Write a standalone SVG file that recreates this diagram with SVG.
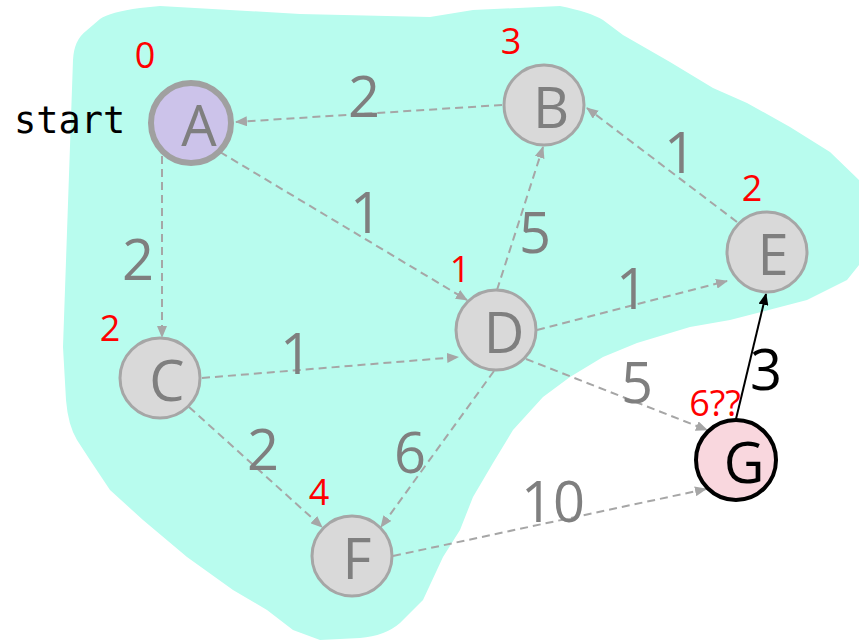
<svg xmlns="http://www.w3.org/2000/svg" width="859" height="641" viewBox="0 0 859 641">
<style>
.nd{fill:#d9d9d9;stroke:#a6a6a6;stroke-width:3}
.lt{font-family:"Open Sans","Liberation Sans",sans-serif;font-size:56px;fill:#7f7f7f;text-anchor:middle}
.rd{font-family:"Open Sans","Liberation Sans",sans-serif;font-size:36px;fill:#ff0000;text-anchor:middle}
.wt{font-family:"Open Sans","Liberation Sans",sans-serif;font-size:56px;fill:#7f7f7f;text-anchor:middle}
.ed{fill:none;stroke:#a6a6a6;stroke-width:2;stroke-dasharray:8 5;marker-end:url(#ag)}
</style>
<defs>
<marker id="ag" markerWidth="12" markerHeight="10" refX="11" refY="5" orient="auto" markerUnits="userSpaceOnUse"><path d="M0,0 L12,5 L0,10 Z" fill="#a6a6a6"/></marker>
<marker id="ab" markerWidth="12" markerHeight="10" refX="11" refY="5" orient="auto" markerUnits="userSpaceOnUse"><path d="M0,0 L12,5 L0,10 Z" fill="#000"/></marker>
</defs>
<path id="region" fill="#b8fcee" d="M73,60 Q74,40 86,31 L100,19 Q110,12 140,8 L160,6 L300,14 L430,17 L473,10 L560,6 Q590,12 603,20 L623,35 L670,62 L713,88 L747,103 L790,127 L830,152 L859,180 L859,265 L847,280 L807,300 L730,320 L690,327 L637,343 L603,357 L570,377 L543,397 L513,430 L493,463 L473,497 L460,530 L443,557 L423,600 L400,623 Q385,636 360,638 L320,640 L293,630 L267,610 L233,590 L187,557 L143,520 L110,490 L90,460 L77,440 Q68,425 66,400 L63,347 Z"/>
<g id="connectors">
<line class="ed" x1="502" y1="105" x2="236" y2="122"/>
<line class="ed" x1="220" y1="152" x2="467" y2="300"/>
<line class="ed" x1="162" y1="156" x2="162" y2="337"/>
<line class="ed" x1="497" y1="290" x2="543" y2="147"/>
<line class="ed" x1="737" y1="222" x2="587" y2="108"/>
<line class="ed" x1="537" y1="330" x2="727" y2="281"/>
<line class="ed" x1="202" y1="378" x2="458" y2="357"/>
<line class="ed" x1="189" y1="407" x2="322" y2="527"/>
<line class="ed" x1="494" y1="371" x2="381" y2="527"/>
<line class="ed" x1="526" y1="359" x2="707" y2="430"/>
<line class="ed" x1="393" y1="556" x2="706" y2="489"/>
<line x1="736" y1="419" x2="766" y2="294" stroke="#000" stroke-width="2" marker-end="url(#ab)"/>
<text class="wt" x="364" y="117">2</text>
<text class="wt" x="366" y="233">1</text>
<text class="wt" x="138" y="280">2</text>
<text class="wt" x="535" y="253">5</text>
<text class="wt" x="680" y="173">1</text>
<text class="wt" x="632" y="309">1</text>
<text class="wt" x="296" y="374">1</text>
<text class="wt" x="263" y="470">2</text>
<text class="wt" x="410" y="473">6</text>
<text class="wt" x="637" y="403">5</text>
<text class="wt" x="553" y="522">10</text>
<text class="wt" x="766" y="390" style="fill:#000">3</text>
</g>
<text x="14" y="133" font-family="DejaVu Sans Mono,monospace" font-size="37" fill="#000">start</text>
<g id="A"><circle cx="191" cy="123" r="40" fill="#ccc3ea" stroke="#a0a0a0" stroke-width="6"/><text class="lt" x="199" y="146">A</text><text class="rd" x="145" y="68">0</text></g>
<g id="B"><circle class="nd" cx="544" cy="105" r="40"/><text class="lt" x="551" y="128">B</text><text class="rd" x="511" y="54">3</text></g>
<g id="C"><circle class="nd" cx="160" cy="378" r="40"/><text class="lt" x="167" y="401">C</text><text class="rd" x="110" y="341">2</text></g>
<g id="D"><circle class="nd" cx="496" cy="330" r="40"/><text class="lt" x="504" y="353">D</text><text class="rd" x="460" y="282">1</text></g>
<g id="E"><circle class="nd" cx="767" cy="252" r="40"/><text class="lt" x="773" y="275">E</text><text class="rd" x="752" y="201">2</text></g>
<g id="F"><circle class="nd" cx="352" cy="556" r="40"/><text class="lt" x="357" y="579">F</text><text class="rd" x="319" y="505">4</text></g>
<g id="G"><circle cx="736" cy="460" r="40" fill="#f9d7de" stroke="#000" stroke-width="4"/><text class="lt" x="744" y="483" style="fill:#000">G</text><text class="rd" x="715" y="416">6??</text></g>
</svg>
